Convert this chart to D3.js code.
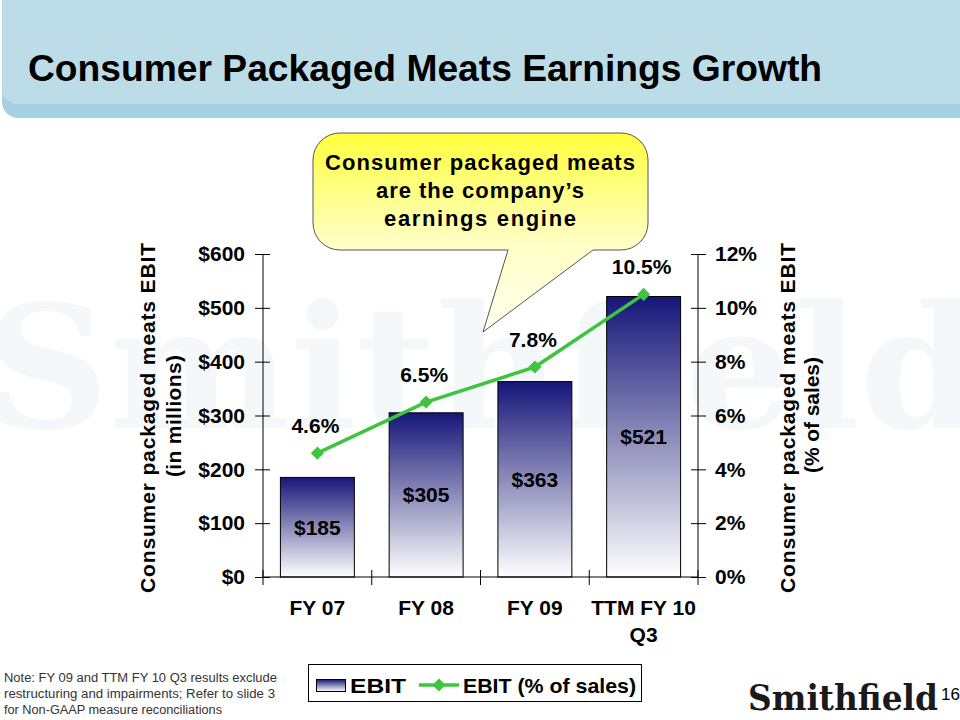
<!DOCTYPE html>
<html>
<head>
<meta charset="utf-8">
<script src="https://cdn.jsdelivr.net/npm/d3@7"></script>
<style>
  html, body { margin: 0; padding: 0; background: #fff; }
  svg { display: block; font-family: "Liberation Sans", Arial, sans-serif; }
</style>
</head>
<body>
<script>
// chart data
const categories = ["FY 07", "FY 08", "FY 09", "TTM FY 10\nQ3"];
const ebitValues = [185, 305, 363, 521];
const ebitPctValues = [4.6, 6.5, 7.8, 10.5];
const leftTicks = [0, 100, 200, 300, 400, 500, 600];
const rightTicks = [0, 2, 4, 6, 8, 10, 12];
const calloutLines = ["Consumer packaged meats", "are the company\u2019s", "earnings engine"];
const noteLines = [
    "Note: FY 09 and TTM FY 10 Q3 results exclude",
    "restructuring and impairments; Refer to slide 3",
    "for Non-GAAP measure reconciliations"
];

const W = 960, H = 720;
const sans = "'Liberation Sans', Arial, sans-serif";
const serif = "'DejaVu Serif', 'Liberation Serif', serif";
const svg = d3.select("body").append("svg").attr("width", W).attr("height", H);
const defs = svg.append("defs");

// gradients
const barGrad = defs.append("linearGradient").attr("id", "barGrad")
    .attr("x1", 0).attr("y1", 0).attr("x2", 0).attr("y2", 1);
barGrad.append("stop").attr("offset", "0%").attr("stop-color", "#16167a");
barGrad.append("stop").attr("offset", "50%").attr("stop-color", "#8c8cba");
barGrad.append("stop").attr("offset", "100%").attr("stop-color", "#ffffff");

const bubbleGrad = defs.append("linearGradient").attr("id", "bubbleGrad")
    .attr("gradientUnits", "userSpaceOnUse")
    .attr("x1", 0).attr("y1", 133).attr("x2", 0).attr("y2", 332);
bubbleGrad.append("stop").attr("offset", "0%").attr("stop-color", "#ffff3c");
bubbleGrad.append("stop").attr("offset", "55%").attr("stop-color", "#ffffc4");
bubbleGrad.append("stop").attr("offset", "100%").attr("stop-color", "#fffff0");

// header band
svg.append("path")
    .attr("d", "M2,0 H960 V118 H18 A16,16 0 0 1 2,102 Z")
    .attr("fill", "#a6d1e2");
svg.append("path")
    .attr("d", "M2,0 H960 V104 H18 A16,16 0 0 1 2,88 Z")
    .attr("fill", "#bcdce7");
svg.append("text")
    .attr("x", 28).attr("y", 81)
    .style("font-family", sans)
    .attr("font-size", 36).attr("font-weight", "bold")
    .attr("textLength", 794).attr("lengthAdjust", "spacingAndGlyphs")
    .text("Consumer Packaged Meats Earnings Growth");

// watermark
svg.append("text")
    .attr("x", -15).attr("y", 428)
    .style("font-family", serif)
    .attr("font-size", 170).attr("font-weight", "bold")
    .attr("fill", "#f4f8fa")
    .attr("textLength", 995).attr("lengthAdjust", "spacingAndGlyphs")
    .text("Smithfield");

// scales
const x = d3.scaleBand().domain(categories).range([263, 698])
    .paddingInner(0.32).paddingOuter(0.16);
const y = d3.scaleLinear().domain([0, 600]).range([577, 254]);
const y2 = d3.scaleLinear().domain([0, 12]).range([577, 254]);

// bars
svg.append("g").selectAll("rect")
    .data(ebitValues)
    .join("rect")
    .attr("x", (d, i) => x(categories[i]))
    .attr("y", d => y(d))
    .attr("width", x.bandwidth())
    .attr("height", d => y(0) - y(d))
    .attr("fill", "url(#barGrad)")
    .attr("stroke", "#000")
    .attr("stroke-width", 1);

// bar value labels
svg.append("g").selectAll("text")
    .data(ebitValues)
    .join("text")
    .attr("x", (d, i) => x(categories[i]) + x.bandwidth() / 2)
    .attr("y", d => (y(d) + y(0)) / 2)
    .attr("dy", "0.36em")
    .attr("text-anchor", "middle")
    .attr("font-size", 21).attr("font-weight", "bold")
    .text(d => "$" + d);

// axes
const fontAxis = g => g.selectAll("text")
    .style("font-family", sans)
    .attr("font-size", 21).attr("font-weight", "bold")
    .attr("fill", "#000");

const leftAxis = svg.append("g")
    .attr("transform", "translate(263,0)")
    .call(d3.axisLeft(y).tickValues(leftTicks).tickSize(8).tickPadding(10)
        .tickFormat(d => "$" + d))
    .call(fontAxis);
leftAxis.selectAll(".tick line").attr("x1", 7);
leftAxis.select(".domain").attr("d", "M0,254V577");

const rightAxis = svg.append("g")
    .attr("transform", "translate(698,0)")
    .call(d3.axisRight(y2).tickValues(rightTicks).tickSize(8).tickPadding(9)
        .tickFormat(d => d + "%"))
    .call(fontAxis);
rightAxis.selectAll(".tick line").attr("x1", -7);
rightAxis.select(".domain").attr("d", "M0,254V577");

const bottomAxis = svg.append("g")
    .attr("transform", "translate(0,577)")
    .call(d3.axisBottom(x).tickSize(0).tickPadding(0).tickFormat(""));
bottomAxis.select(".domain").attr("d", "M263,0H698");

// category separators
const step = x.step();
const bounds = d3.range(0, categories.length + 1).map(i => 263 + i * step);
svg.append("g").selectAll("line")
    .data(bounds)
    .join("line")
    .attr("x1", d => d).attr("x2", d => d)
    .attr("y1", 570).attr("y2", 585)
    .attr("stroke", "#000");

// category labels
const catLabels = svg.append("g").selectAll("text")
    .data(categories)
    .join("text")
    .attr("x", d => x(d) + x.bandwidth() / 2)
    .attr("y", 615)
    .attr("text-anchor", "middle")
    .attr("font-size", 21).attr("font-weight", "bold");
catLabels.each(function (d) {
    const t = d3.select(this);
    d.split("\n").forEach((line, i) => {
        t.append("tspan")
            .attr("x", x(d) + x.bandwidth() / 2)
            .attr("dy", i === 0 ? 0 : 27)
            .text(line);
    });
});

// line series
const line = d3.line()
    .x((d, i) => x(categories[i]) + x.bandwidth() / 2)
    .y(d => y2(d));
svg.append("path")
    .datum(ebitPctValues)
    .attr("d", line)
    .attr("fill", "none")
    .attr("stroke", "#3fc43f")
    .attr("stroke-width", 3.5);

const diamond = d3.symbol().type(d3.symbolDiamond2).size(110);
svg.append("g").selectAll("path")
    .data(ebitPctValues)
    .join("path")
    .attr("transform", (d, i) => `translate(${x(categories[i]) + x.bandwidth() / 2},${y2(d)})`)
    .attr("d", diamond)
    .attr("fill", "#3fc43f");

svg.append("g").selectAll("text")
    .data(ebitPctValues)
    .join("text")
    .attr("x", (d, i) => x(categories[i]) + x.bandwidth() / 2 - 2)
    .attr("y", d => y2(d) - 20)
    .attr("text-anchor", "middle")
    .attr("font-size", 21).attr("font-weight", "bold")
    .text(d => d.toFixed(1) + "%");

// axis titles
function axisTitle(cx, cy, text, len) {
    svg.append("text")
        .attr("transform", `translate(${cx},${cy}) rotate(-90)`)
        .attr("text-anchor", "middle")
        .attr("dy", "0.36em")
        .attr("font-size", 21).attr("font-weight", "bold")
        .attr("textLength", len).attr("lengthAdjust", "spacing")
        .text(text);
}
axisTitle(147, 418, "Consumer packaged meats EBIT", 350);
axisTitle(173, 416, "(in millions)", 122);
axisTitle(787, 418, "Consumer packaged meats EBIT", 350);
axisTitle(811, 415, "(% of sales)", 116);

// callout
svg.append("path")
    .attr("d", "M340,133 H621 A27,27 0 0 1 648,160 V223 A27,27 0 0 1 621,250 H593 L483,332 L508,250 H340 A27,27 0 0 1 313,223 V160 A27,27 0 0 1 340,133 Z")
    .attr("fill", "url(#bubbleGrad)")
    .attr("stroke", "#555")
    .attr("stroke-width", 1);
const calloutLens = [310, 208, 192];
svg.append("g").selectAll("text")
    .data(calloutLines)
    .join("text")
    .attr("x", 480)
    .attr("y", (d, i) => 170 + i * 28)
    .attr("text-anchor", "middle")
    .attr("font-size", 22).attr("font-weight", "bold")
    .attr("textLength", (d, i) => calloutLens[i]).attr("lengthAdjust", "spacing")
    .text(d => d);

// legend
const legend = svg.append("g");
legend.append("rect")
    .attr("x", 308.5).attr("y", 664.5).attr("width", 333).attr("height", 37)
    .attr("fill", "#fff").attr("stroke", "#000");
legend.append("rect")
    .attr("x", 316.5).attr("y", 679.5).attr("width", 29).attr("height", 12)
    .attr("fill", "url(#barGrad)").attr("stroke", "#000");
legend.append("text")
    .attr("x", 350).attr("y", 693)
    .attr("font-size", 21).attr("font-weight", "bold")
    .attr("textLength", 56).attr("lengthAdjust", "spacingAndGlyphs")
    .text("EBIT");
legend.append("line")
    .attr("x1", 419).attr("x2", 459).attr("y1", 685).attr("y2", 685)
    .attr("stroke", "#3fc43f").attr("stroke-width", 3.5);
legend.append("path")
    .attr("transform", "translate(439,685)")
    .attr("d", diamond)
    .attr("fill", "#3fc43f");
legend.append("text")
    .attr("x", 463).attr("y", 693)
    .attr("font-size", 21).attr("font-weight", "bold")
    .attr("textLength", 173).attr("lengthAdjust", "spacingAndGlyphs")
    .text("EBIT (% of sales)");

// footnote
const noteLens = [273, 271, 218];
svg.append("g").selectAll("text")
    .data(noteLines)
    .join("text")
    .attr("x", 4)
    .attr("y", (d, i) => 682 + i * 16)
    .attr("font-size", 12.5)
    .attr("fill", "#333")
    .attr("textLength", (d, i) => noteLens[i]).attr("lengthAdjust", "spacingAndGlyphs")
    .text(d => d);

// logo + page number
svg.append("text")
    .attr("x", 748).attr("y", 710)
    .style("font-family", serif)
    .attr("font-size", 36).attr("font-weight", "bold")
    .attr("fill", "#1a1a1a")
    .attr("textLength", 190).attr("lengthAdjust", "spacingAndGlyphs")
    .text("Smithfield");
svg.append("text")
    .attr("x", 941).attr("y", 700)
    .attr("font-size", 17)
    .text("16");
</script>
</body>
</html>
